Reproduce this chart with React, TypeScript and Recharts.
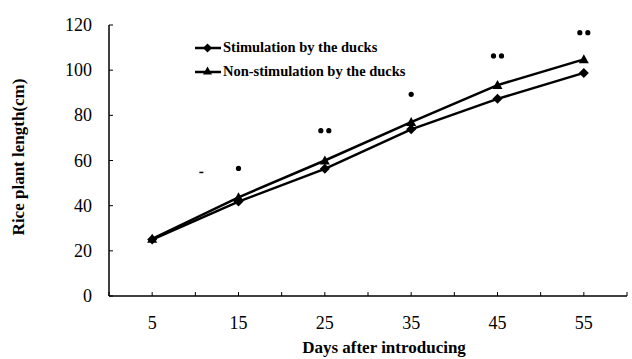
import React from 'react';
import { ComposedChart, Line, XAxis, YAxis, ReferenceDot } from 'recharts';

const days = [5, 15, 25, 35, 45, 55];
const stimulation = [25, 41.8, 56.3, 73.8, 87.3, 98.8];
const nonStimulation = [25.3, 43.7, 60, 77, 93.4, 104.8];
const sigHeights = [null, 56.5, 73.2, 89.3, 106.3, 116.6];
const sigMarks = ['', '*', '**', '*', '**', '**'];
const xTicks = [0, 5, 10, 15, 20, 25, 30, 35, 40, 45, 50, 55, 60];
const xLabelled = [5, 15, 25, 35, 45, 55];
const yTicks = [0, 20, 40, 60, 80, 100, 120];
const strayDash = { day: 10.7, value: 54.6 };

const seriesNames = ['Stimulation by the ducks', 'Non-stimulation by the ducks'];

const data = days.map((d, i) => ({
  day: d,
  stim: stimulation[i],
  non: nonStimulation[i],
  sig: sigHeights[i],
  mark: sigMarks[i],
}));

const FONT = '"Liberation Serif", "Times New Roman", serif';

const Diamond = ({ cx, cy, s = 5 }: any) => {
  if (cx == null || cy == null) return <g />;
  return <polygon points={`${cx},${cy - s} ${cx + s},${cy} ${cx},${cy + s} ${cx - s},${cy}`} fill="#000" />;
};
const Triangle = ({ cx, cy, s = 5 }: any) => {
  if (cx == null || cy == null) return <g />;
  return <polygon points={`${cx},${cy - s} ${cx + s},${cy + s * 0.8} ${cx - s},${cy + s * 0.8}`} fill="#000" />;
};

const SigDot = (props: any) => {
  const { cx, cy, payload } = props;
  if (cx == null || cy == null || !payload || !payload.mark) return <g key={props.key} />;
  const n = payload.mark.length;
  const gap = 8;
  const start = cx - ((n - 1) * gap) / 2;
  return (
    <g key={props.key}>
      {Array.from({ length: n }).map((_, i) => (
        <circle key={i} cx={start + i * gap} cy={cy} r={2.6} fill="#000" />
      ))}
    </g>
  );
};

const XTick = (props: any) => {
  const { x, y, payload } = props;
  const axisY = y - 2;
  const show = xLabelled.includes(payload.value);
  return (
    <g>
      <line x1={x} y1={axisY} x2={x} y2={axisY - 4} stroke="#000" strokeWidth={1} />
      {show && (
        <text x={x} y={axisY + 33} textAnchor="middle" fontFamily={FONT} fontSize={18} fill="#000">
          {payload.value}
        </text>
      )}
    </g>
  );
};

const YTick = (props: any) => {
  const { x, y, payload } = props;
  const axisX = x + 2;
  return (
    <g>
      <line x1={axisX} y1={y} x2={axisX + 4} y2={y} stroke="#000" strokeWidth={1} />
      <text x={axisX - 17} y={y + 6} textAnchor="end" fontFamily={FONT} fontSize={18} fill="#000">
        {payload.value}
      </text>
    </g>
  );
};

export default function App() {
  return (
    <div style={{ position: 'absolute', left: 0, top: 0, width: 632, height: 359, background: '#fff' }}>
      <ComposedChart width={632} height={359} data={data} margin={{ top: 25, right: 5, bottom: 0, left: 0 }}>
        <XAxis
          dataKey="day"
          type="number"
          domain={[0, 60]}
          ticks={xTicks}
          interval={0}
          tickLine={false}
          tickSize={0}
          tickMargin={2}
          height={63}
          tick={<XTick />}
          axisLine={{ stroke: '#000', strokeWidth: 1.5 }}
        />
        <YAxis
          type="number"
          domain={[0, 120]}
          ticks={yTicks}
          interval={0}
          tickLine={false}
          tickSize={0}
          tickMargin={2}
          width={109}
          tick={<YTick />}
          axisLine={{ stroke: '#000', strokeWidth: 1.5 }}
        />
        <Line
          dataKey="non"
          name={seriesNames[1]}
          stroke="#000"
          strokeWidth={2.5}
          isAnimationActive={false}
          dot={(p: any) => <Triangle key={p.key} cx={p.cx} cy={p.cy} s={5} />}
          activeDot={false}
        />
        <Line
          dataKey="stim"
          name={seriesNames[0]}
          stroke="#000"
          strokeWidth={2.5}
          isAnimationActive={false}
          dot={(p: any) => <Diamond key={p.key} cx={p.cx} cy={p.cy} s={5} />}
          activeDot={false}
        />
        <Line
          dataKey="sig"
          stroke="none"
          legendType="none"
          isAnimationActive={false}
          dot={<SigDot />}
          activeDot={false}
        />
        <ReferenceDot
          x={strayDash.day}
          y={strayDash.value}
          shape={(p: any) => <rect x={p.cx - 2} y={p.cy - 1} width={4} height={1.5} fill="#000" />}
        />
      </ComposedChart>
      <svg style={{ position: 'absolute', left: 0, top: 0, pointerEvents: 'none' }} width={632} height={359}>
        {seriesNames.map((name, i) => {
          const y = 48 + i * 24;
          return (
            <g key={name}>
              <line x1={195} y1={y} x2={221} y2={y} stroke="#000" strokeWidth={2.5} />
              {i === 0 ? <Diamond cx={207.5} cy={y} s={4.5} /> : <Triangle cx={207.5} cy={y - 1} s={4.5} />}
              <text x={223} y={y + 4} fontFamily={FONT} fontSize={14.5} fontWeight="bold" fill="#000">
                {name}
              </text>
            </g>
          );
        })}
        <text x={384} y={353} textAnchor="middle" fontFamily={FONT} fontSize={17} fontWeight="bold" fill="#000">
          Days after introducing
        </text>
        <text
          x={0}
          y={0}
          transform="translate(24,157) rotate(-90)"
          textAnchor="middle"
          fontFamily={FONT}
          fontSize={17}
          fontWeight="bold"
          fill="#000"
        >
          Rice plant length(cm)
        </text>
      </svg>
    </div>
  );
}
